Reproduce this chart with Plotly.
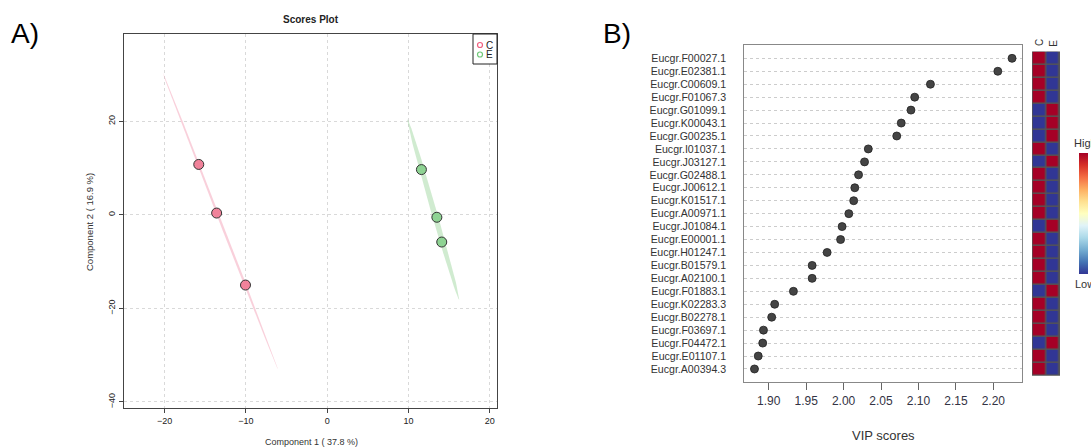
import numpy as np
import plotly.graph_objects as go

# ---------------- data ----------------
# Panel A: PLS-DA scores
c_comp1 = [-15.8, -13.6, -10.05]
c_comp2 = [10.8, 0.4, -15.0]
e_comp1 = [11.6, 13.5, 14.1]
e_comp2 = [9.7, -0.5, -5.8]
xticks_a = [-20, -10, 0, 10, 20]
yticks_a = [-40, -20, 0, 20]

# Panel B: VIP scores
genes = ["Eucgr.F00027.1", "Eucgr.E02381.1", "Eucgr.C00609.1", "Eucgr.F01067.3",
         "Eucgr.G01099.1", "Eucgr.K00043.1", "Eucgr.G00235.1", "Eucgr.I01037.1",
         "Eucgr.J03127.1", "Eucgr.G02488.1", "Eucgr.J00612.1", "Eucgr.K01517.1",
         "Eucgr.A00971.1", "Eucgr.J01084.1", "Eucgr.E00001.1", "Eucgr.H01247.1",
         "Eucgr.B01579.1", "Eucgr.A02100.1", "Eucgr.F01883.1", "Eucgr.K02283.3",
         "Eucgr.B02278.1", "Eucgr.F03697.1", "Eucgr.F04472.1", "Eucgr.E01107.1",
         "Eucgr.A00394.3"]
vip = [2.225, 2.206, 2.116, 2.095, 2.090, 2.077, 2.071, 2.033, 2.028, 2.020,
       2.015, 2.0135, 2.007, 1.998, 1.996, 1.978, 1.958, 1.958, 1.933, 1.908,
       1.904, 1.893, 1.892, 1.886, 1.881]
heat_C = [1, 1, 1, 1, 0, 0, 0, 1, 0, 1, 1, 1, 1, 0, 1, 1, 1, 1, 0, 1, 1, 1, 0, 1, 1]
heat_E = [0, 0, 0, 0, 1, 1, 1, 0, 1, 0, 0, 0, 0, 1, 0, 0, 0, 0, 1, 0, 0, 0, 1, 0, 0]
heat_cols = ["C", "E"]
xticks_b = [1.90, 1.95, 2.00, 2.05, 2.10, 2.15, 2.20]

W, H = 1091, 448
FONT = "Liberation Sans, Arial, sans-serif"


def px(x):
    return x / W


def py(y):
    return 1 - y / H


def conf_ellipse(xs, ys, t=2.4477, n=200):
    xs = np.asarray(xs, float)
    ys = np.asarray(ys, float)
    cov = np.cov(np.vstack([xs, ys]))
    vals, vecs = np.linalg.eigh(cov)
    vals = np.clip(vals, 0, None)
    th = np.linspace(0, 2 * np.pi, n)
    circ = np.vstack([np.cos(th), np.sin(th)])
    pts = vecs @ (np.sqrt(vals)[:, None] * circ) * t
    return xs.mean() + pts[0], ys.mean() + pts[1]


fig = go.Figure()

# ellipses
for xs, ys, col in [(c_comp1, c_comp2, "rgba(242,150,175,0.45)"),
                    (e_comp1, e_comp2, "rgba(150,210,150,0.45)")]:
    ex, ey = conf_ellipse(xs, ys)
    fig.add_trace(go.Scatter(x=ex, y=ey, fill="toself", fillcolor=col, mode="lines",
                             line=dict(width=0), hoverinfo="skip", showlegend=False,
                             xaxis="x", yaxis="y"))

# points
for xs, ys, col in [(c_comp1, c_comp2, "#F0829A"), (e_comp1, e_comp2, "#8ED393")]:
    fig.add_trace(go.Scatter(x=xs, y=ys, mode="markers",
                             marker=dict(size=10, color=col, line=dict(color="#333333", width=1)),
                             showlegend=False, xaxis="x", yaxis="y"))

# VIP dots
fig.add_trace(go.Scatter(x=vip, y=genes, mode="markers",
                         marker=dict(size=8, color="#444444", line=dict(color="#222222", width=0.8)),
                         showlegend=False, xaxis="x2", yaxis="y2"))

# heatmap
colorscale = [[0.0, "#313695"], [0.1, "#4575b4"], [0.2, "#74add1"], [0.3, "#abd9e9"],
              [0.4, "#e0f3f8"], [0.5, "#ffffbf"], [0.6, "#fee090"], [0.7, "#fdae61"],
              [0.8, "#f46d43"], [0.9, "#d73027"], [1.0, "#a50026"]]
z = [[c, e] for c, e in zip(heat_C, heat_E)]
fig.add_trace(go.Heatmap(z=z, x=heat_cols, y=genes, colorscale=colorscale, zmin=0, zmax=1,
                         xgap=1.5, ygap=1.5, xaxis="x3", yaxis="y3", hoverinfo="skip",
                         colorbar=dict(x=px(1079), xanchor="left", thickness=9,
                                       thicknessmode="pixels",
                                       len=(273.3 - 152.7) / H, lenmode="fraction",
                                       y=py(213), yanchor="middle", showticklabels=False,
                                       ticks="", outlinewidth=0, xpad=0, ypad=0)))

axis_font = dict(family=FONT, size=9, color="#222222")

fig.update_layout(
    width=W, height=H,
    margin=dict(l=0, r=0, t=0, b=0, pad=0, autoexpand=False),
    paper_bgcolor="white", plot_bgcolor="white",
    font=dict(family=FONT, color="#222222"),
    xaxis=dict(domain=[px(124), px(497)], range=[-25.0, 20.9], tickvals=xticks_a,
               showgrid=True, gridcolor="#d9d9d9", griddash="dot", gridwidth=1,
               zeroline=False, showline=True, mirror=True, linecolor="#444444", linewidth=1,
               ticks="outside", ticklen=4, tickcolor="#444444", tickfont=axis_font,
               automargin=False),
    yaxis=dict(domain=[py(408), py(34)], range=[-41.3, 38.7], tickvals=yticks_a,
               tickangle=-90,
               showgrid=True, gridcolor="#d9d9d9", griddash="dot", gridwidth=1,
               zeroline=False, showline=True, mirror=True, linecolor="#444444", linewidth=1,
               ticks="outside", ticklen=4, tickcolor="#444444", tickfont=axis_font,
               automargin=False),
    xaxis2=dict(domain=[px(744.3), px(1022)], range=[1.8674, 2.2383], tickvals=xticks_b,
                tickformat=".2f", showgrid=False, zeroline=False, showline=True, mirror=True,
                linecolor="#888888", linewidth=1, ticks="outside", ticklen=7,
                tickcolor="#666666", tickfont=dict(family=FONT, size=12, color="#333344"),
                anchor="y2", automargin=False),
    yaxis2=dict(domain=[py(382.3), py(45)], type="category", categoryorder="array",
                categoryarray=genes, range=[25.03, -1.03], autorange=False,
                tickmode="array", tickvals=genes, ticktext=genes,
                showgrid=True, gridcolor="#cccccc", griddash="dot", gridwidth=1,
                zeroline=False, showline=True, mirror=True, linecolor="#888888", linewidth=1,
                ticks="", ticklabelstandoff=15,
                tickfont=dict(family=FONT, size=10.6, color="#333333"), anchor="x2",
                automargin=False),
    xaxis3=dict(domain=[px(1032.5), px(1059.5)], type="category", categoryorder="array",
                categoryarray=heat_cols, showticklabels=False, showgrid=False,
                zeroline=False, showline=False, anchor="y3", automargin=False),
    yaxis3=dict(domain=[py(382.3), py(45)], type="category", categoryorder="array",
                categoryarray=genes, range=[25.03, -1.03], autorange=False,
                showticklabels=False, showgrid=False, zeroline=False, showline=False,
                anchor="x3", automargin=False),
)

annotations = [
    dict(text="A)", x=px(9), y=py(34), xanchor="left", yanchor="middle",
         font=dict(size=28, family=FONT, color="black")),
    dict(text="B)", x=px(601), y=py(34), xanchor="left", yanchor="middle",
         font=dict(size=28, family=FONT, color="black")),
    dict(text="<b>Scores Plot</b>", x=px(311), y=py(19), xanchor="center", yanchor="middle",
         font=dict(size=10, family=FONT, color="#222222")),
    dict(text="Component 1 ( 37.8 %)", x=px(311), y=py(442), xanchor="center",
         yanchor="middle", font=dict(size=9, family=FONT, color="#333333")),
    dict(text="Component 2 ( 16.9 %)", x=px(89), y=py(222), xanchor="center",
         yanchor="middle", textangle=-90, font=dict(size=9.5, family=FONT, color="#333333")),
    dict(text="C", x=px(489.5), y=py(45), xanchor="center", yanchor="middle",
         font=dict(size=10, family=FONT, color="#222222")),
    dict(text="E", x=px(489.5), y=py(54.5), xanchor="center", yanchor="middle",
         font=dict(size=10, family=FONT, color="#222222")),
    dict(text="VIP scores", x=px(883), y=py(435), xanchor="center", yanchor="middle",
         font=dict(size=13, family=FONT, color="#333333")),
    dict(text="C", x=px(1039), y=py(43), xanchor="center", yanchor="middle", textangle=-90,
         font=dict(size=10, family=FONT, color="#333333")),
    dict(text="E", x=px(1052.7), y=py(43), xanchor="center", yanchor="middle", textangle=-90,
         font=dict(size=10, family=FONT, color="#333333")),
    dict(text="High", x=px(1072), y=py(143), xanchor="left", yanchor="middle",
         font=dict(size=11, family=FONT, color="#333333")),
    dict(text="Low", x=px(1073), y=py(284), xanchor="left", yanchor="middle",
         font=dict(size=11, family=FONT, color="#333333")),
]
for a in annotations:
    a.update(xref="paper", yref="paper", showarrow=False)
fig.update_layout(annotations=annotations)

shapes = [
    # legend box
    dict(type="rect", xref="paper", yref="paper", x0=px(473), x1=px(497), y0=py(64), y1=py(34),
         line=dict(color="#222222", width=1), fillcolor="white", layer="above"),
    dict(type="circle", xref="paper", yref="paper", x0=px(477.5), x1=px(482.5),
         y0=py(47.5), y1=py(42.5), line=dict(color="#F0607F", width=1.2), layer="above"),
    dict(type="circle", xref="paper", yref="paper", x0=px(477.5), x1=px(482.5),
         y0=py(57), y1=py(52), line=dict(color="#70C878", width=1.2), layer="above"),
    # heatmap cell borders background
    dict(type="rect", xref="paper", yref="paper", x0=px(1032), x1=px(1060),
         y0=py(375.8), y1=py(51.5), line=dict(width=0), fillcolor="#555555", layer="below"),
]
fig.update_layout(shapes=shapes)

fig.write_html("out.html", config={"displayModeBar": False},
               post_script="document.body.style.margin='0';document.body.style.padding='0';"
                           "document.body.style.overflow='hidden';")
